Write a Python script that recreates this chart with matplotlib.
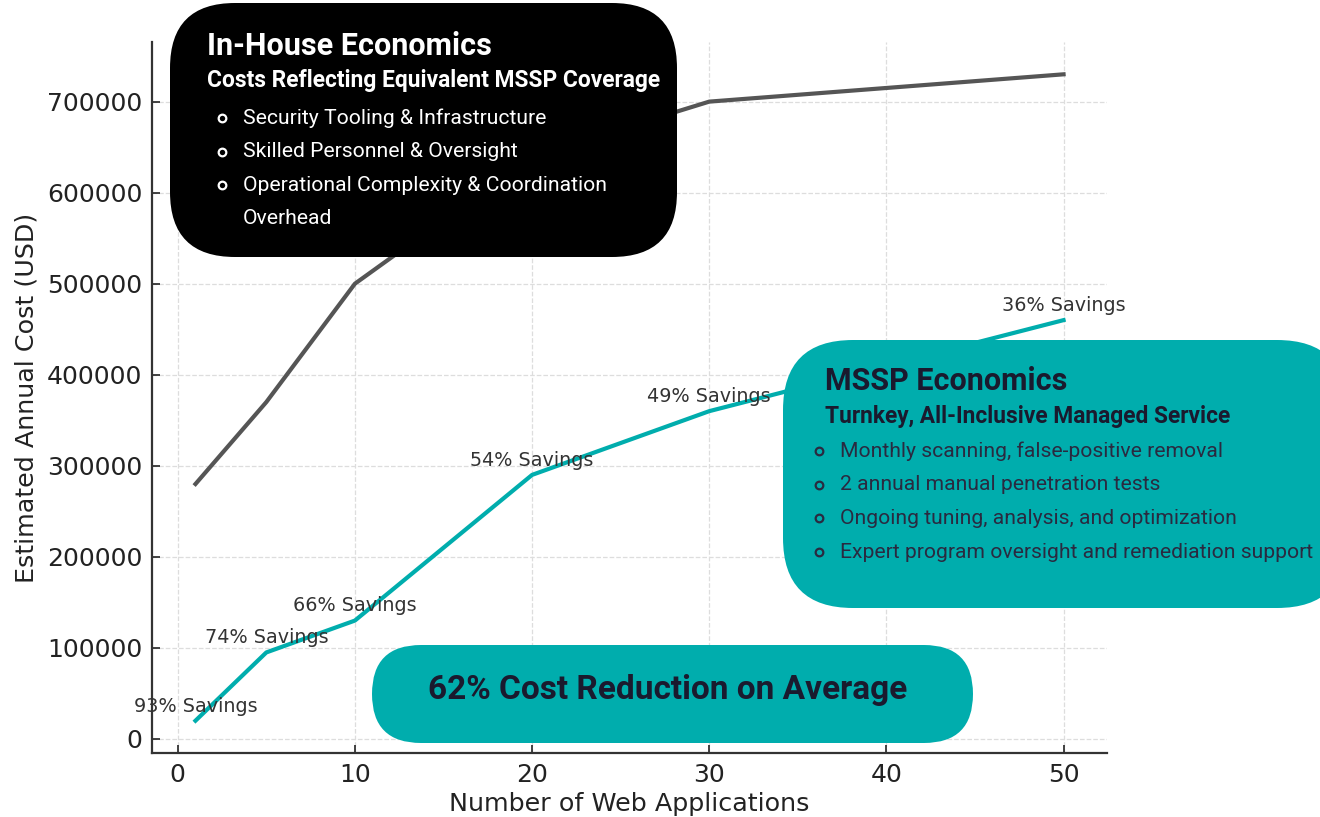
import numpy as np
import matplotlib
matplotlib.use("Agg")
import matplotlib.pyplot as plt
from matplotlib.patches import FancyBboxPatch

# data
apps = [1, 5, 10, 20, 30, 50]
in_house = [280000, 370000, 500000, 640000, 700000, 730000]
mssp = [20000, 95000, 130000, 290000, 360000, 460000]
savings = [93, 74, 66, 54, 49, 36]

in_house_bullets = ["Security Tooling & Infrastructure",
                    "Skilled Personnel & Oversight",
                    "Operational Complexity & Coordination",
                    "Overhead"]
mssp_bullets = ["Monthly scanning, false-positive removal",
                "2 annual manual penetration tests",
                "Ongoing tuning, analysis, and optimization",
                "Expert program oversight and remediation support"]

TEAL = "#00adad"
DARK = "#1a1a2e"

fig = plt.figure(figsize=(13.2, 8.17), dpi=100)
ax = fig.add_axes([0.1152, 0.0783, 0.7234, 0.8703])

ax.plot(apps, in_house, color="#555555", lw=3)
ax.plot(apps, mssp, color=TEAL, lw=3)
for x, y, s in zip(apps, mssp, savings):
    ax.text(x, y + 10000, f"{s}% Savings", ha="center", fontsize=13.8, color="#333333")

ax.set_xlabel("Number of Web Applications", fontsize=18.3, color="#222222")
ax.set_ylabel("Estimated Annual Cost (USD)", fontsize=18.3, color="#222222", labelpad=6)
ax.tick_params(direction="in", labelsize=18, pad=7, colors="#222222", length=6, width=1.2)
ax.grid(True, linestyle="--", color="#dddddd", lw=0.9)
for s in ["top", "right"]:
    ax.spines[s].set_visible(False)
for s in ["left", "bottom"]:
    ax.spines[s].set_linewidth(1.6)
    ax.spines[s].set_color("#333333")
ax.ticklabel_format(style="plain", axis="y")

# overlay in pixel units for the callout boxes
ov = fig.add_axes([0, 0, 1, 1], zorder=5)
ov.set_xlim(0, 1320)
ov.set_ylim(817, 0)
ov.axis("off")
ov.patch.set_alpha(0)

def box(x, y, w, h, r, color):
    p = FancyBboxPatch((x, y), w, h, boxstyle=f"round,pad=0,rounding_size={r}",
                       fc=color, ec="none")
    ov.add_patch(p)

def bullets(x, y0, items, color, step):
    for i, t in enumerate(items):
        y = y0 + i * step
        if t != "Overhead":
            ov.plot([x], [y], "o", ms=5.5, mfc="none", mec=color, mew=1.6)
        ov.text(x + 21, y, t, fontsize=15.2, family="Roboto", color=color, va="center")

# in-house box
box(170, 3, 507, 254, 65, "black")
ov.text(207, 46, "In-House Economics", fontsize=22, family="Roboto", weight="bold",
        color="white", va="center")
ov.text(207, 80, "Costs Reflecting Equivalent MSSP Coverage", fontsize=16.4,
        family="Roboto", weight="bold", color="white", va="center")
bullets(222, 118, in_house_bullets, "white", 33.5)

# mssp box
box(783, 340, 564, 268, 70, TEAL)
ov.text(825, 381, "MSSP Economics", fontsize=22, family="Roboto", weight="bold",
        color=DARK, va="center")
ov.text(825, 416, "Turnkey, All-Inclusive Managed Service", fontsize=16.4,
        family="Roboto", weight="bold", color=DARK, va="center")
bullets(819, 451, mssp_bullets, "#2a2a40", 33.7)

# bottom pill
box(372, 645, 601, 98, 49, TEAL)
ov.text(668, 690, "62% Cost Reduction on Average", fontsize=24, family="Roboto",
        weight="bold", color=DARK, ha="center", va="center")

fig.savefig("out.png", dpi=100)
